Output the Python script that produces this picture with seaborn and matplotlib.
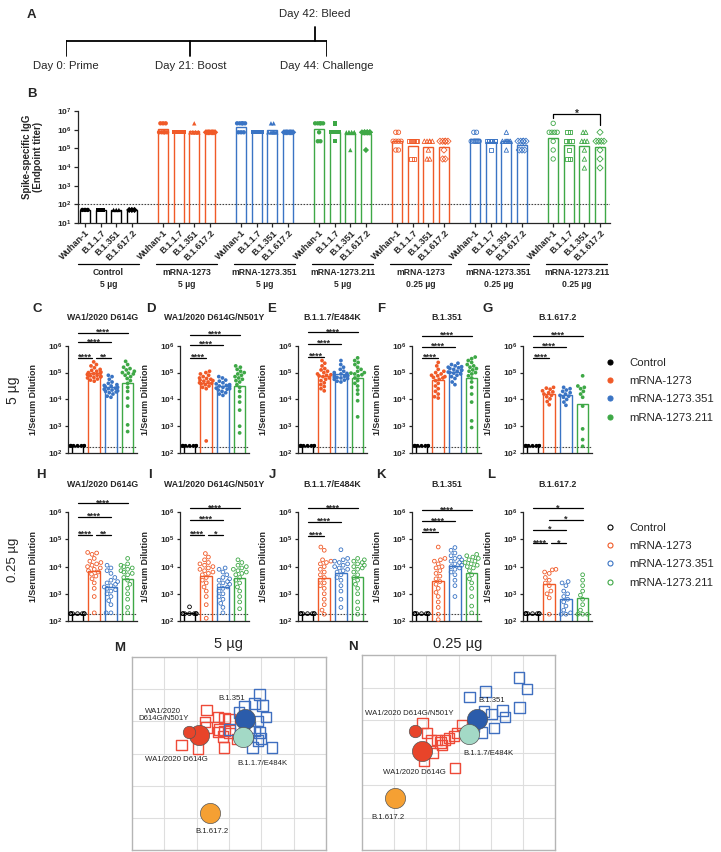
import warnings
import numpy as np
import pandas as pd
import seaborn as sns
import matplotlib.pyplot as plt
import matplotlib.transforms as mtransforms
from matplotlib.lines import Line2D
from matplotlib.ticker import FuncFormatter, NullLocator

warnings.filterwarnings('ignore')
sns.set_theme(style='ticks')
plt.rcParams['font.family'] = ['Liberation Sans', 'DejaVu Sans']
plt.rcParams['mathtext.fontset'] = 'custom'
plt.rcParams['mathtext.rm'] = 'Liberation Sans'
plt.rcParams['mathtext.bf'] = 'Liberation Sans:bold'
plt.rcParams['axes.linewidth'] = 0.9
plt.rcParams['xtick.major.width'] = 0.9
plt.rcParams['ytick.major.width'] = 0.9

# ---------------- data ----------------
groups = ['Control', 'mRNA-1273', 'mRNA-1273.351', 'mRNA-1273.211']
colors = {'Control': 'black', 'mRNA-1273': '#f05a28',
          'mRNA-1273.351': '#3a74c4', 'mRNA-1273.211': '#3ea846'}

# panel A timeline
timeline_days = [0, 21, 44]
timeline_labels = ['Day 0: Prime', 'Day 21: Boost', 'Day 44: Challenge']
bleed_day = 42
bleed_label = 'Day 42: Bleed'

# panel B: log10 endpoint titers, one list per variant
variants_b = ['Wuhan-1', 'B.1.1.7', 'B.1.351', 'B.1.617.2']
b_groups = ['Control', 'mRNA-1273', 'mRNA-1273.351', 'mRNA-1273.211',
            'mRNA-1273', 'mRNA-1273.351', 'mRNA-1273.211']
b_doses = ['5 µg', '5 µg', '5 µg', '5 µg', '0.25 µg', '0.25 µg', '0.25 µg']
b_control_5 = [[1.7] * 3, [1.7] * 3, [1.7] * 3, [1.7] * 3]
b_1273_5 = [[6.34] * 3 + [5.86] * 5, [5.86] * 8, [6.34] + [5.86] * 7, [5.86] * 8]
b_351_5 = [[6.34] * 5 + [5.86] * 3, [5.86] * 8, [6.34] * 2 + [5.86] * 6, [5.86] * 8]
b_211_5 = [[6.34] * 5 + [5.86] + [5.38] * 2, [6.34] + [5.86] * 6 + [5.38],
           [5.86] * 7 + [4.91], [5.86] * 7 + [4.91]]
b_1273_025 = [[5.86] * 2 + [5.38] * 4 + [4.91] * 2, [5.38] * 6 + [4.43] * 2,
              [5.38] * 5 + [4.91] + [4.43] * 2, [5.38] * 5 + [4.91] + [4.43] * 2]
b_351_025 = [[5.86] * 2 + [5.38] * 6, [5.38] * 7 + [4.91],
             [5.86] + [5.38] * 6 + [4.91], [5.38] * 5 + [4.91] * 3]
b_211_025 = [[6.34] + [5.86] * 4 + [5.38] + [4.91] + [4.43],
             [5.86] * 2 + [5.38] * 3 + [4.91] + [4.43] * 2,
             [5.86] * 2 + [5.38] * 3 + [4.91] + [4.43] + [3.95],
             [5.86] + [5.38] * 4 + [4.91] + [4.43] + [3.95]]
b_values = [b_control_5, b_1273_5, b_351_5, b_211_5, b_1273_025, b_351_025, b_211_025]

# panels C-L: log10 neutralizing titers
neut_titles = ['WA1/2020 D614G', 'WA1/2020 D614G/N501Y', 'B.1.1.7/E484K', 'B.1.351', 'B.1.617.2']
lod = 2.24
ctrl_5 = [[2.27] * 8] * 5
ctrl_025 = [[2.27] * 8, [2.27] * 7 + [2.52], [2.27] * 8, [2.27] * 8, [2.27] * 8]
hi_1273 = [
    [5.40, 5.30, 5.25, 5.18, 5.12, 5.08, 5.05, 5.02, 5.0, 4.98, 4.96, 4.94, 4.92, 4.9, 4.88, 4.86, 4.84, 4.82, 4.8, 4.76, 4.72, 4.68],
    [5.05, 5.0, 4.95, 4.9, 4.85, 4.8, 4.78, 4.75, 4.72, 4.7, 4.68, 4.65, 4.62, 4.6, 4.58, 4.55, 4.5, 4.45, 4.4, 2.45],
    [5.45, 5.35, 5.25, 5.15, 5.1, 5.05, 5.0, 4.95, 4.92, 4.9, 4.88, 4.85, 4.8, 4.75, 4.7, 4.62, 4.55, 4.48, 4.4, 4.32],
    [5.38, 5.25, 5.12, 5.05, 5.0, 4.95, 4.9, 4.88, 4.85, 4.82, 4.8, 4.75, 4.7, 4.6, 4.5, 4.4, 4.3, 4.2, 4.1, 4.05],
    [4.45, 4.42, 4.38, 4.32, 4.28, 4.25, 4.2, 4.15, 4.1, 4.02, 3.92, 3.8],
]
hi_351 = [
    [4.9, 4.85, 4.75, 4.65, 4.6, 4.55, 4.52, 4.5, 4.48, 4.45, 4.42, 4.4, 4.38, 4.35, 4.32, 4.3, 4.28, 4.25, 4.2, 4.12, 4.08],
    [4.85, 4.8, 4.72, 4.68, 4.62, 4.58, 4.55, 4.52, 4.5, 4.48, 4.45, 4.42, 4.4, 4.38, 4.35, 4.3, 4.25, 4.2, 4.15],
    [5.45, 5.3, 5.2, 5.12, 5.05, 5.0, 4.97, 4.95, 4.92, 4.9, 4.88, 4.86, 4.84, 4.82, 4.8, 4.78, 4.75, 4.72, 4.68, 4.65],
    [5.35, 5.3, 5.25, 5.22, 5.2, 5.18, 5.15, 5.12, 5.1, 5.08, 5.05, 5.02, 5.0, 4.98, 4.95, 4.9, 4.85, 4.78, 4.65, 4.55],
    [4.45, 4.4, 4.35, 4.3, 4.25, 4.2, 4.15, 4.12, 4.08, 4.0, 3.9, 3.78],
]
hi_211 = [
    [5.42, 5.3, 5.2, 5.15, 5.1, 5.05, 5.0, 4.98, 4.95, 4.9, 4.85, 4.78, 4.7, 4.6, 4.45, 4.3, 4.05, 3.75, 3.05, 2.8],
    [5.25, 5.2, 5.12, 5.05, 5.0, 4.95, 4.9, 4.85, 4.8, 4.75, 4.7, 4.65, 4.55, 4.45, 4.3, 4.1, 3.9, 3.6, 3.0, 2.75],
    [5.55, 5.45, 5.38, 5.3, 5.2, 5.12, 5.05, 5.0, 4.98, 4.95, 4.92, 4.88, 4.8, 4.7, 4.6, 4.5, 4.35, 4.2, 3.95, 3.35],
    [5.58, 5.52, 5.45, 5.38, 5.3, 5.25, 5.2, 5.15, 5.1, 5.05, 5.0, 4.95, 4.88, 4.8, 4.65, 4.45, 4.2, 3.9, 3.2, 2.95],
    [4.88, 4.5, 4.45, 4.4, 4.3, 4.2, 4.08, 3.75, 2.9, 2.5, 2.25],
]
lo_1273 = [
    [4.52, 4.5, 4.45, 4.3, 4.2, 4.15, 4.1, 4.05, 4.0, 3.95, 3.9, 3.85, 3.8, 3.72, 3.65, 3.55, 3.4, 3.2, 2.9, 2.3],
    [4.48, 4.35, 4.25, 4.15, 4.1, 4.05, 4.0, 3.95, 3.9, 3.85, 3.8, 3.75, 3.7, 3.6, 3.5, 3.4, 3.25, 3.1, 2.9, 2.6, 2.1],
    [4.72, 4.6, 4.25, 4.2, 4.15, 4.1, 4.0, 3.9, 3.8, 3.7, 3.6, 3.5, 3.4, 3.3, 3.2, 3.0, 2.8, 2.6, 2.4, 2.25],
    [4.72, 4.3, 4.25, 4.2, 4.1, 4.0, 3.95, 3.85, 3.75, 3.65, 3.55, 3.45, 3.35, 3.2, 3.05, 2.9, 2.7, 2.5, 2.25, 2.05],
    [3.9, 3.88, 3.8, 3.75, 3.6, 3.5, 3.4, 3.3, 3.1, 3.0, 2.85, 2.25],
]
lo_351 = [
    [4.05, 3.95, 3.85, 3.75, 3.6, 3.5, 3.45, 3.4, 3.35, 3.3, 3.25, 3.2, 3.15, 3.1, 3.0, 2.9, 2.75, 2.6, 2.3, 2.3],
    [3.95, 3.9, 3.8, 3.7, 3.6, 3.55, 3.5, 3.45, 3.4, 3.35, 3.3, 3.25, 3.2, 3.1, 3.0, 2.9, 2.8, 2.65, 2.5, 2.3],
    [4.62, 4.3, 4.25, 4.2, 4.15, 4.1, 4.05, 4.0, 3.95, 3.9, 3.85, 3.8, 3.7, 3.6, 3.5, 3.3, 3.1, 2.8, 2.5],
    [4.7, 4.6, 4.5, 4.4, 4.35, 4.3, 4.25, 4.2, 4.15, 4.1, 4.05, 4.0, 3.95, 3.9, 3.8, 3.7, 3.5, 3.3, 2.9],
    [3.45, 3.4, 3.3, 3.1, 3.0, 2.9, 2.8, 2.7, 2.55, 2.4, 2.3, 2.25, 2.25],
]
lo_211 = [
    [4.3, 4.1, 4.05, 4.0, 3.95, 3.9, 3.85, 3.8, 3.75, 3.7, 3.6, 3.5, 3.35, 3.2, 3.0, 2.8, 2.5, 2.3],
    [4.25, 4.15, 4.05, 4.0, 3.95, 3.9, 3.85, 3.8, 3.75, 3.7, 3.6, 3.5, 3.4, 3.25, 3.1, 2.9, 2.7, 2.45],
    [4.3, 4.25, 4.2, 4.15, 4.1, 4.05, 4.0, 3.95, 3.9, 3.8, 3.7, 3.6, 3.5, 3.35, 3.2, 3.0, 2.7, 2.45, 2.25],
    [4.45, 4.4, 4.35, 4.3, 4.25, 4.2, 4.15, 4.1, 4.05, 4.0, 3.95, 3.85, 3.7, 3.55, 3.4, 3.2, 2.9, 2.55, 2.3],
    [3.7, 3.5, 3.3, 3.1, 2.95, 2.8, 2.6, 2.4, 2.25, 2.25, 2.25],
]
# significance brackets: (from group, to group, log10 height, label)
hi_sig = [
    [(0, 3, 6.49, '****'), (0, 2, 6.13, '****'), (0, 1, 5.56, '****'), (1, 2, 5.56, '**')],
    [(0, 3, 6.42, '****'), (0, 2, 6.04, '****'), (0, 1, 5.56, '****')],
    [(0, 3, 6.50, '****'), (0, 2, 6.08, '****'), (0, 1, 5.60, '****')],
    [(0, 3, 6.38, '****'), (0, 2, 5.97, '****'), (0, 1, 5.56, '****')],
    [(0, 3, 6.38, '****'), (0, 2, 5.97, '****'), (0, 1, 5.56, '****')],
]
lo_sig = [
    [(0, 3, 6.33, '****'), (0, 2, 5.82, '****'), (0, 1, 5.16, '****'), (1, 2, 5.16, '**')],
    [(0, 3, 6.14, '****'), (0, 2, 5.71, '****'), (0, 1, 5.16, '****'), (1, 2, 5.16, '*')],
    [(0, 3, 6.14, '****'), (0, 2, 5.64, '****'), (0, 1, 5.12, '****')],
    [(0, 3, 6.07, '****'), (0, 2, 5.67, '****'), (0, 1, 5.28, '****')],
    [(0, 3, 6.14, '*'), (1, 3, 5.73, '*'), (0, 2, 5.34, '*'), (0, 1, 4.85, '****'), (1, 2, 4.85, '*')],
]

# panels M/N: antigenic cartography (map units, y downward)
antigens = ['WA1/2020 D614G', 'WA1/2020 D614G/N501Y', 'B.1.351', 'B.1.1.7/E484K', 'B.1.617.2']
antigen_colors = ['#e8442a', '#e8442a', '#2b5cab', '#a3d9c6', '#f5a033']
m_antigen_x = [2.07, 1.77, 3.51, 3.44, 2.41]
m_antigen_y = [2.42, 2.32, 1.93, 2.48, 4.85]
n_antigen_x = [1.86, 1.66, 3.57, 3.34, 1.03]
n_antigen_y = [2.95, 2.35, 1.97, 2.42, 4.40]
m_sera_1273_x = [2.30, 2.25, 2.66, 2.86, 3.02, 2.71, 2.86, 3.02, 2.81, 1.53, 2.04, 2.84, 3.25, 2.30, 2.66]
m_sera_1273_y = [1.65, 2.02, 1.86, 1.89, 1.94, 2.25, 2.30, 2.37, 2.47, 2.74, 2.84, 2.81, 2.55, 2.19, 2.33]
m_sera_351_x = [3.94, 3.79, 4.04, 3.48, 4.14, 3.89, 3.02, 3.63, 3.94, 3.99, 3.89, 3.73, 4.33, 3.79, 3.32]
m_sera_351_y = [1.17, 1.45, 1.51, 1.53, 1.86, 2.00, 2.25, 2.19, 2.35, 2.53, 2.60, 2.81, 2.81, 2.30, 1.73]
n_sera_1273_x = [1.88, 2.03, 2.14, 2.34, 2.44, 2.58, 2.70, 2.85, 3.11, 2.96, 1.93, 2.90, 2.19, 2.49]
n_sera_1273_y = [2.10, 2.40, 2.63, 2.61, 2.69, 2.61, 2.56, 2.50, 2.15, 2.40, 3.27, 3.48, 3.02, 2.76]
n_sera_351_x = [4.88, 5.13, 3.34, 3.84, 3.80, 4.03, 4.37, 4.44, 4.90, 4.11, 3.74, 3.47]
n_sera_351_y = [0.69, 1.04, 1.30, 1.12, 1.74, 1.81, 1.71, 1.91, 1.62, 2.25, 2.38, 2.20]

# ---------------- figure ----------------
W, H = 721, 852
fig = plt.figure(figsize=(W / 100, H / 100), dpi=100)


def px_axes(x0, y0, x1, y1):
    return fig.add_axes([x0 / W, 1 - y1 / H, (x1 - x0) / W, (y1 - y0) / H])


def ftext(x, y, s, **kw):
    fig.text(x / W, 1 - y / H, s, ha=kw.pop('ha', 'center'), va=kw.pop('va', 'center'), **kw)


pow10 = FuncFormatter(lambda v, p: r'$\mathbf{10^{%d}}$' % round(np.log10(v)))

# ---- A: timeline ----
ax_a = px_axes(65.7, 0, 326.7, 80)
ax_a.set_xlim(0, 44)
ax_a.set_ylim(80, 0)
ax_a.axis('off')
ax_a.plot([0, 44], [41, 41], color='black', lw=1.3, solid_capstyle='projecting')
for d, lab in zip(timeline_days, timeline_labels):
    ax_a.plot([d, d], [41, 56], color='black', lw=1.3)
    ax_a.text(d, 66, lab, ha='center', va='center', fontsize=8.2)
ax_a.plot([bleed_day, bleed_day], [27, 41], color='black', lw=1.3)
ax_a.text(bleed_day, 14, bleed_label, ha='center', va='center', fontsize=8.2)
ftext(31, 15, 'A', fontsize=9.5, fontweight='bold')

# ---- B: binding titers ----
bar_rows, pt_rows = [], []
for g, (grp, dose, vals) in enumerate(zip(b_groups, b_doses, b_values)):
    for v, logs in enumerate(vals):
        pos = 5 * g + v
        bar_rows.append({'pos': pos, 'grp': grp, 'titer': 10 ** np.mean(logs)})
        logs = np.array(logs)
        offs = np.zeros(len(logs))
        for u in np.unique(logs):
            idx = np.where(logs == u)[0]
            for r, k in enumerate(idx):
                row, col = divmod(r, 4)
                m = min(4, len(idx) - row * 4)
                offs[k] = (col - (m - 1) / 2) * 0.17 + (0.08 if row % 2 else 0)
        for lv, o in zip(logs, offs):
            pt_rows.append({'x': pos + o, 'titer': 10 ** lv, 'grp': grp,
                            'variant': variants_b[v], 'hollow': dose == '0.25 µg'})
bar_df = pd.DataFrame(bar_rows)
pt_df = pd.DataFrame(pt_rows)

ax_b = px_axes(78, 111, 610, 223)
ax_b.set_yscale('log')
sns.barplot(data=bar_df, x='pos', y='titer', hue='grp', palette=colors, native_scale=True,
            fill=False, width=0.65, errorbar=None, legend=False, linewidth=1.0, ax=ax_b)
markers_b = dict(zip(variants_b, ['o', 's', '^', 'D']))
for var in variants_b:
    for hollow in [False, True]:
        sub = pt_df[(pt_df['variant'] == var) & (pt_df['hollow'] == hollow)]
        sns.scatterplot(data=sub, x='x', y='titer', hue='grp', palette=colors,
                        marker=markers_b[var], s=10 if var != 'D' else 8, linewidth=0,
                        legend=False, ax=ax_b, zorder=3, clip_on=False)
        if hollow:
            coll = ax_b.collections[-1]
            fc = coll.get_facecolors()
            coll.set_edgecolors(fc)
            coll.set_facecolors('none')
            coll.set_linewidth(0.6)
ax_b.axhline(100, color='#444444', ls=(0, (1.5, 1.2)), lw=0.8, zorder=0)
ax_b.set_ylim(10, 1e7)
ax_b.set_xlim(-0.45, 33.64)
ax_b.set_yticks([10 ** k for k in range(1, 8)])
ax_b.yaxis.set_major_formatter(pow10)
ax_b.yaxis.set_minor_locator(NullLocator())
ax_b.set_xticks(bar_df['pos'])
ax_b.set_xticklabels(variants_b * 7, rotation=45, ha='right', rotation_mode='anchor',
                     fontsize=6.5, fontweight='bold')
ax_b.tick_params(axis='y', labelsize=6, length=3, pad=1.5)
ax_b.tick_params(axis='x', length=3, pad=1)
ax_b.set_xlabel('')
ax_b.set_ylabel('Spike-specific IgG\n(Endpoint titer)', fontsize=7, fontweight='bold', linespacing=1.1)
ax_b.yaxis.set_label_coords(-0.066, 0.59)
sns.despine(ax=ax_b)
ax_b.patch.set_alpha(0)
blend = mtransforms.blended_transform_factory(ax_b.transData, ax_b.transAxes)
for g, (grp, dose) in enumerate(zip(b_groups, b_doses)):
    ax_b.plot([5 * g - 0.45, 5 * g + 3.45], [-0.366, -0.366], transform=blend,
              color='black', lw=0.9, clip_on=False)
    ax_b.text(5 * g + 1.5, -0.40, grp + '\n' + dose, transform=blend, ha='center', va='top',
              fontsize=6.2, fontweight='bold', linespacing=1.45)
ax_b.plot([30, 30, 33, 33], [10 ** 6.61, 10 ** 6.82, 10 ** 6.82, 10 ** 6.25],
          color='black', lw=0.9, clip_on=False)
ax_b.annotate('*', xy=(31.5, 10 ** 6.82), xytext=(0, -3), textcoords='offset points',
              ha='center', va='bottom', fontsize=7, fontweight='bold', annotation_clip=False)
ftext(32, 94, 'B', fontsize=9.5, fontweight='bold')

# ---- C-L: neutralization ----
panel_x = [68, 180, 298, 412, 523]
rows = [
    dict(top=319, bottom=453, ctrl=ctrl_5, vals=(hi_1273, hi_351, hi_211), sig=hi_sig,
         hollow=False, letters='CDEFG', letter_y=309, title_y=317,
         letter_x=[37, 151, 272, 381, 488]),
    dict(top=485, bottom=621, ctrl=ctrl_025, vals=(lo_1273, lo_351, lo_211), sig=lo_sig,
         hollow=True, letters='HIJKL', letter_y=475, title_y=485,
         letter_x=[41, 150, 272, 381, 491]),
]
for row in rows:
    for p in range(5):
        x0 = panel_x[p]
        ax = px_axes(x0, row['top'], x0 + 69, row['bottom'])
        ax.set_yscale('log')
        ax.patch.set_alpha(0)
        sets = [row['ctrl'][p]] + [v[p] for v in row['vals']]
        df = pd.DataFrame([{'group': grp, 'titer': 10 ** lv}
                           for grp, s in zip(groups, sets) for lv in s])
        bars = pd.DataFrame({'group': groups, 'titer': [10 ** np.mean(s) for s in sets]})
        sns.barplot(data=bars, x='group', y='titer', hue='group', order=groups, hue_order=groups,
                    palette=colors, fill=False, width=0.69, errorbar=None, legend=False,
                    linewidth=1.0, ax=ax)
        n_before = len(ax.collections)
        sns.swarmplot(data=df, x='group', y='titer', hue='group', order=groups, hue_order=groups,
                      palette=colors, size=2.7, legend=False, ax=ax, zorder=3, clip_on=False)
        if row['hollow']:
            for coll in ax.collections[n_before:]:
                fc = coll.get_facecolors()
                coll.set_edgecolors(fc)
                coll.set_facecolors('none')
                coll.set_linewidth(0.6)
        ax.axhline(10 ** lod, color='#444444', ls=(0, (1.5, 1.2)), lw=0.8, zorder=0)
        ax.set_xlim(-0.57, 3.56)
        ax.set_ylim(100, 1e7)
        ax.set_yticks([10 ** k for k in range(2, 7)])
        ax.yaxis.set_major_formatter(pow10)
        ax.yaxis.set_minor_locator(NullLocator())
        ax.set_xticks([])
        ax.set_xlabel('')
        ax.tick_params(axis='y', labelsize=6, length=2.5, pad=1.5)
        sns.despine(ax=ax)
        ax.spines['left'].set_bounds(100, 1e6)
        ax.set_ylabel('1/Serum Dilution', fontsize=6.4, fontweight='bold')
        ax.yaxis.set_label_coords(-0.44, 0.4)
        sig = row['sig'][p]
        for i, j, y, lab in sig:
            a = i + (0.13 if any(o[1] == i and o[2] == y for o in sig) else 0)
            b = j - (0.13 if any(o[0] == j and o[2] == y for o in sig) else 0)
            ax.plot([a, b], [10 ** y, 10 ** y], color='black', lw=0.9, clip_on=False)
            ax.annotate(lab, xy=((a + b) / 2, 10 ** y), xytext=(0, -2.8), textcoords='offset points',
                        ha='center', va='bottom', fontsize=6.5, fontweight='bold',
                        annotation_clip=False)
        ftext(x0 + 34.5, row['title_y'], neut_titles[p], fontsize=6.3, fontweight='bold')
        ftext(row['letter_x'][p], row['letter_y'], row['letters'][p], fontsize=9.5, fontweight='bold')

ftext(13, 390, '5 µg', fontsize=10, rotation=90)
ftext(13, 560, '0.25 µg', fontsize=9.5, rotation=90)

# legends
for y_top, hollow in [(358, False), (523, True)]:
    handles = [Line2D([], [], marker='o', ls='', markersize=3.6,
                      markerfacecolor='none' if hollow else colors[g],
                      markeredgecolor=colors[g], markeredgewidth=0.8) for g in groups]
    fig.legend(handles, groups, loc='upper left', bbox_to_anchor=(604 / W, 1 - y_top / H),
               frameon=False, fontsize=8.2, handlelength=1.0, handletextpad=1.2,
               labelspacing=0.72, borderpad=0, borderaxespad=0)

# ---- M/N: antigenic maps ----
maps = [
    dict(box=(132, 657, 326, 850), ax_x=m_antigen_x, ax_y=m_antigen_y,
         s1=(m_sera_1273_x, m_sera_1273_y), s2=(m_sera_351_x, m_sera_351_y),
         title='5 µg', title_xy=(228, 644), letter='M', letter_xy=(120, 648),
         labels=[('B.1.351', 3.08, 1.28), ('WA1/2020\nD614G/N501Y', 0.97, 1.80),
                 ('WA1/2020 D614G', 1.38, 3.20), ('B.1.1.7/E484K', 4.02, 3.30),
                 ('B.1.617.2', 2.47, 5.42)]),
    dict(box=(362, 655, 555, 850), ax_x=n_antigen_x, ax_y=n_antigen_y,
         s1=(n_sera_1273_x, n_sera_1273_y), s2=(n_sera_351_x, n_sera_351_y),
         title='0.25 µg', title_xy=(458, 644), letter='N', letter_xy=(353, 647),
         labels=[('B.1.351', 4.03, 1.41), ('WA1/2020 D614G/N501Y', 1.47, 1.79),
                 ('WA1/2020 D614G', 1.63, 3.61), ('B.1.1.7/E484K', 3.93, 3.02),
                 ('B.1.617.2', 0.81, 4.99)]),
]
for mp in maps:
    ax = px_axes(*mp['box'])
    ax.set_facecolor('white')
    ax.set_xlim(0, 6)
    ax.set_ylim(6, 0)
    ax.set_xticks(range(1, 6))
    ax.set_yticks(range(1, 6))
    ax.grid(True, color='#dedede', lw=0.8)
    ax.tick_params(length=0, labelbottom=False, labelleft=False)
    for sp in ax.spines.values():
        sp.set_color('#b5b5b5')
        sp.set_linewidth(1.0)
    for (sx, sy), c in [(mp['s1'], '#ee4a38'), (mp['s2'], '#3f6fc0')]:
        sns.scatterplot(x=sx, y=sy, marker='s', s=55, facecolors='none', edgecolor=c,
                        linewidth=1.0, ax=ax, zorder=3)
    for k, name in enumerate(antigens):
        sns.scatterplot(x=[mp['ax_x'][k]], y=[mp['ax_y'][k]], marker='o',
                        s=80 if name == 'WA1/2020 D614G/N501Y' else 210,
                        color=antigen_colors[k], edgecolor='#555555', linewidth=0.5,
                        ax=ax, zorder=4)
    for lab, lx, ly in mp['labels']:
        ax.text(lx, ly, lab, ha='center', va='center', fontsize=5.6, color='#222222',
                zorder=5, linespacing=1.1)
    ax.set_xlabel('')
    ax.set_ylabel('')
    ftext(*mp['title_xy'], mp['title'], fontsize=10.5)
    ftext(*mp['letter_xy'], mp['letter'], fontsize=9.5, fontweight='bold')

fig.savefig('out.png', dpi=100)
